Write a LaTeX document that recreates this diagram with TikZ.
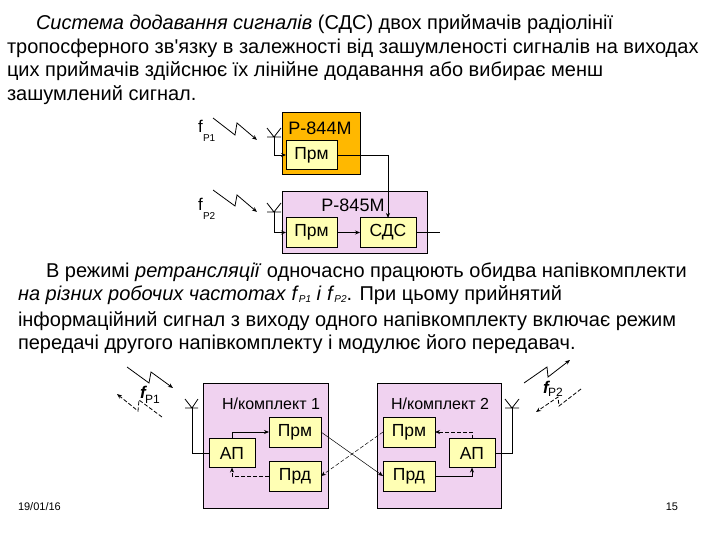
\documentclass[tikz,border=0pt]{standalone}
\usepackage{fontspec}
\setmainfont{Liberation Sans}
\usetikzlibrary{arrows.meta}
\definecolor{orangebox}{RGB}{255,184,0}
\definecolor{lilacbox}{RGB}{240,210,240}
\definecolor{yellowbox}{RGB}{255,255,180}
\newcommand{\fsub}[1]{\textit{f\raisebox{-2.5pt}{\fontsize{10}{11}\selectfont\,#1}}}
\begin{document}
\begin{tikzpicture}[x=1pt,y=-1pt,
  every node/.style={inner sep=0pt,outer sep=0pt},
  txt/.style={anchor=base west,font=\fontsize{20}{22}\selectfont},
  lbl/.style={font=\fontsize{18}{20}\selectfont},
  setlbl/.style={font=\fontsize{16}{18}\selectfont},
  panel/.style={draw,line width=1pt},
  block/.style={draw,line width=1pt,fill=yellowbox,font=\fontsize{17.5}{19}\selectfont},
  fbig/.style={anchor=base west,font=\fontsize{17}{19}\selectfont},
  fsmall/.style={anchor=base west,font=\fontsize{10}{11}\selectfont},
  conn/.style={line width=0.8pt},
  arr/.style={conn,-{Stealth[length=5pt,width=4pt]}},
  dash5/.style={dash pattern=on 4pt off 2pt}]
\useasboundingbox (0,0) rectangle (720,540);

% Top text
\node[txt] (t1) at (36,30) {\textit{Система додавання сигналів} (СДС) двох приймачів радіолінії};
\node[txt] (t2) at (7,54) {тропосферного зв\textquotesingle язку в залежності від зашумленості сигналів на виходах};
\node[txt] (t3) at (7,77) {цих приймачів здійснює їх лінійне додавання або вибирає менш};
\node[txt] (t4) at (7,101) {зашумлений сигнал.};

% Upper blocks
\node[panel,fill=orangebox,minimum width=78pt,minimum height=62pt] (r844) at (321,144) {};
\node[panel,fill=lilacbox,minimum width=145pt,minimum height=61pt] (r845) at (354.5,222.5) {};
\node[lbl] (r844t) at (320,128) {Р-844М};
\node[lbl] (r845t) at (353,205) {Р-845М};
\node[block,minimum width=51pt,minimum height=29pt] (prm1) at (311.5,155) {Прм};
\node[block,minimum width=51pt,minimum height=29pt] (prm2) at (311.5,232.5) {Прм};
\node[block,minimum width=56pt,minimum height=29pt] (sds) at (388,232.5) {СДС};

% Antennas, upper
\coordinate (a1) at (274,137);
\coordinate (a2) at (274,212);
\draw[conn] (267,128) -- (a1) -- (281,128) (267,137) -- (281,137);
\draw[conn] (267,203) -- (a2) -- (281,203) (267,212) -- (281,212);
\draw[arr] (a1) |- (prm1.west);
\draw[arr] (a2) |- (prm2.west);
\coordinate (c1) at (388,155);
\coordinate (c2) at (440,232.5);
\draw[conn] (prm1.east) -- (c1);
\draw[arr] (c1) -- (sds.north);
\draw[arr] (prm2.east) -- (sds.west);
\draw[conn] (sds.east) -- (c2);

% Radio links, upper
\draw[arr] (213,118) -- (235,135) -- (237,123) -- (257,140);
\draw[arr] (213,190) -- (235,206) -- (237,195) -- (257,212);
\node[fbig] (fp1) at (198,133) {f};
\node[fsmall] (fp1s) at (203,142) {Р1};
\node[fbig] (fp2) at (198,211) {f};
\node[fsmall] (fp2s) at (203,219) {Р2};

% Middle text
\node[txt] (t5) at (46,277) {В режимі \textit{ретрансляції} одночасно працюють обидва напівкомплекти};
\node[txt] (t6) at (18,300) {\textit{на різних робочих частотах} \fsub{P1} \textit{і} \fsub{P2}. При цьому прийнятий};
\node[txt] (t7) at (18,326) {інформаційний сигнал з виходу одного напівкомплекту включає режим};
\node[txt] (t8) at (18,349) {передачі другого напівкомплекту і модулює його передавач.};

% Lower blocks
\node[panel,fill=lilacbox,minimum width=125pt,minimum height=125pt] (set1) at (265.5,445.5) {};
\node[panel,fill=lilacbox,minimum width=124pt,minimum height=125pt] (set2) at (439,445.5) {};
\node[setlbl] (set1t) at (271,404) {Н/комплект 1};
\node[setlbl] (set2t) at (440,404) {Н/комплект 2};
\node[block,minimum width=52pt,minimum height=30pt] (prm3) at (295,432) {Прм};
\node[block,minimum width=52pt,minimum height=30pt] (prd3) at (295,476) {Прд};
\node[block,minimum width=46pt,minimum height=29pt] (ap3) at (232,453) {АП};
\node[block,minimum width=52pt,minimum height=30pt] (prm4) at (409,432) {Прм};
\node[block,minimum width=52pt,minimum height=30pt] (prd4) at (409,476) {Прд};
\node[block,minimum width=46pt,minimum height=29pt] (ap4) at (472,453) {АП};

% Antennas, lower
\coordinate (a3) at (192,408);
\coordinate (a4) at (512,408);
\draw[conn] (185,399) -- (a3) -- (198,399) (185,408) -- (198,408);
\draw[conn] (505,399) -- (a4) -- (519,399) (505,408) -- (519,408);
\draw[conn] (a3) |- (ap3.west);
\draw[conn] (a4) |- (ap4.east);

% Links inside the sets
\draw[arr] (ap3.north) |- (prm3.west);
\draw[arr,dash5] (prd3.west) -| (ap3.south);
\draw[arr,dash5] (ap4.north) |- (prm4.east);
\draw[arr] (prd4.east) -| (ap4.south);
\draw[arr,line width=0.5pt] (prm3.east) -- (prd4.west);
\draw[arr,dash5,line width=0.5pt] (prm4.west) -- (prd3.east);

% Radio links, lower
\draw[arr] (127,367) -- (149,383) -- (151,372) -- (173,388);
\draw[arr,dash5] (162,417) -- (139,400) -- (138,411) -- (117,394);
\draw[arr] (524,383) -- (547,367) -- (548,377) -- (570,360);
\draw[arr,dash5] (581,389) -- (559,406) -- (558,397) -- (536,412);
\node[fbig,font=\fontsize{17}{19}\bfseries\itshape\selectfont] (fp3) at (140,398) {f};
\node[fsmall,font=\fontsize{12}{13}\selectfont] (fp3s) at (145,403) {P1};
\node[fbig,font=\fontsize{17}{19}\bfseries\itshape\selectfont] (fp4) at (543,393) {f};
\node[fsmall,font=\fontsize{12}{13}\selectfont] (fp4s) at (548,396) {P2};

% Footer
\node[anchor=base west,font=\fontsize{11}{13}\selectfont] (date) at (18,510) {19/01/16};
\node[anchor=base east,font=\fontsize{11}{13}\selectfont] (page) at (678,510) {15};
\end{tikzpicture}
\end{document}
